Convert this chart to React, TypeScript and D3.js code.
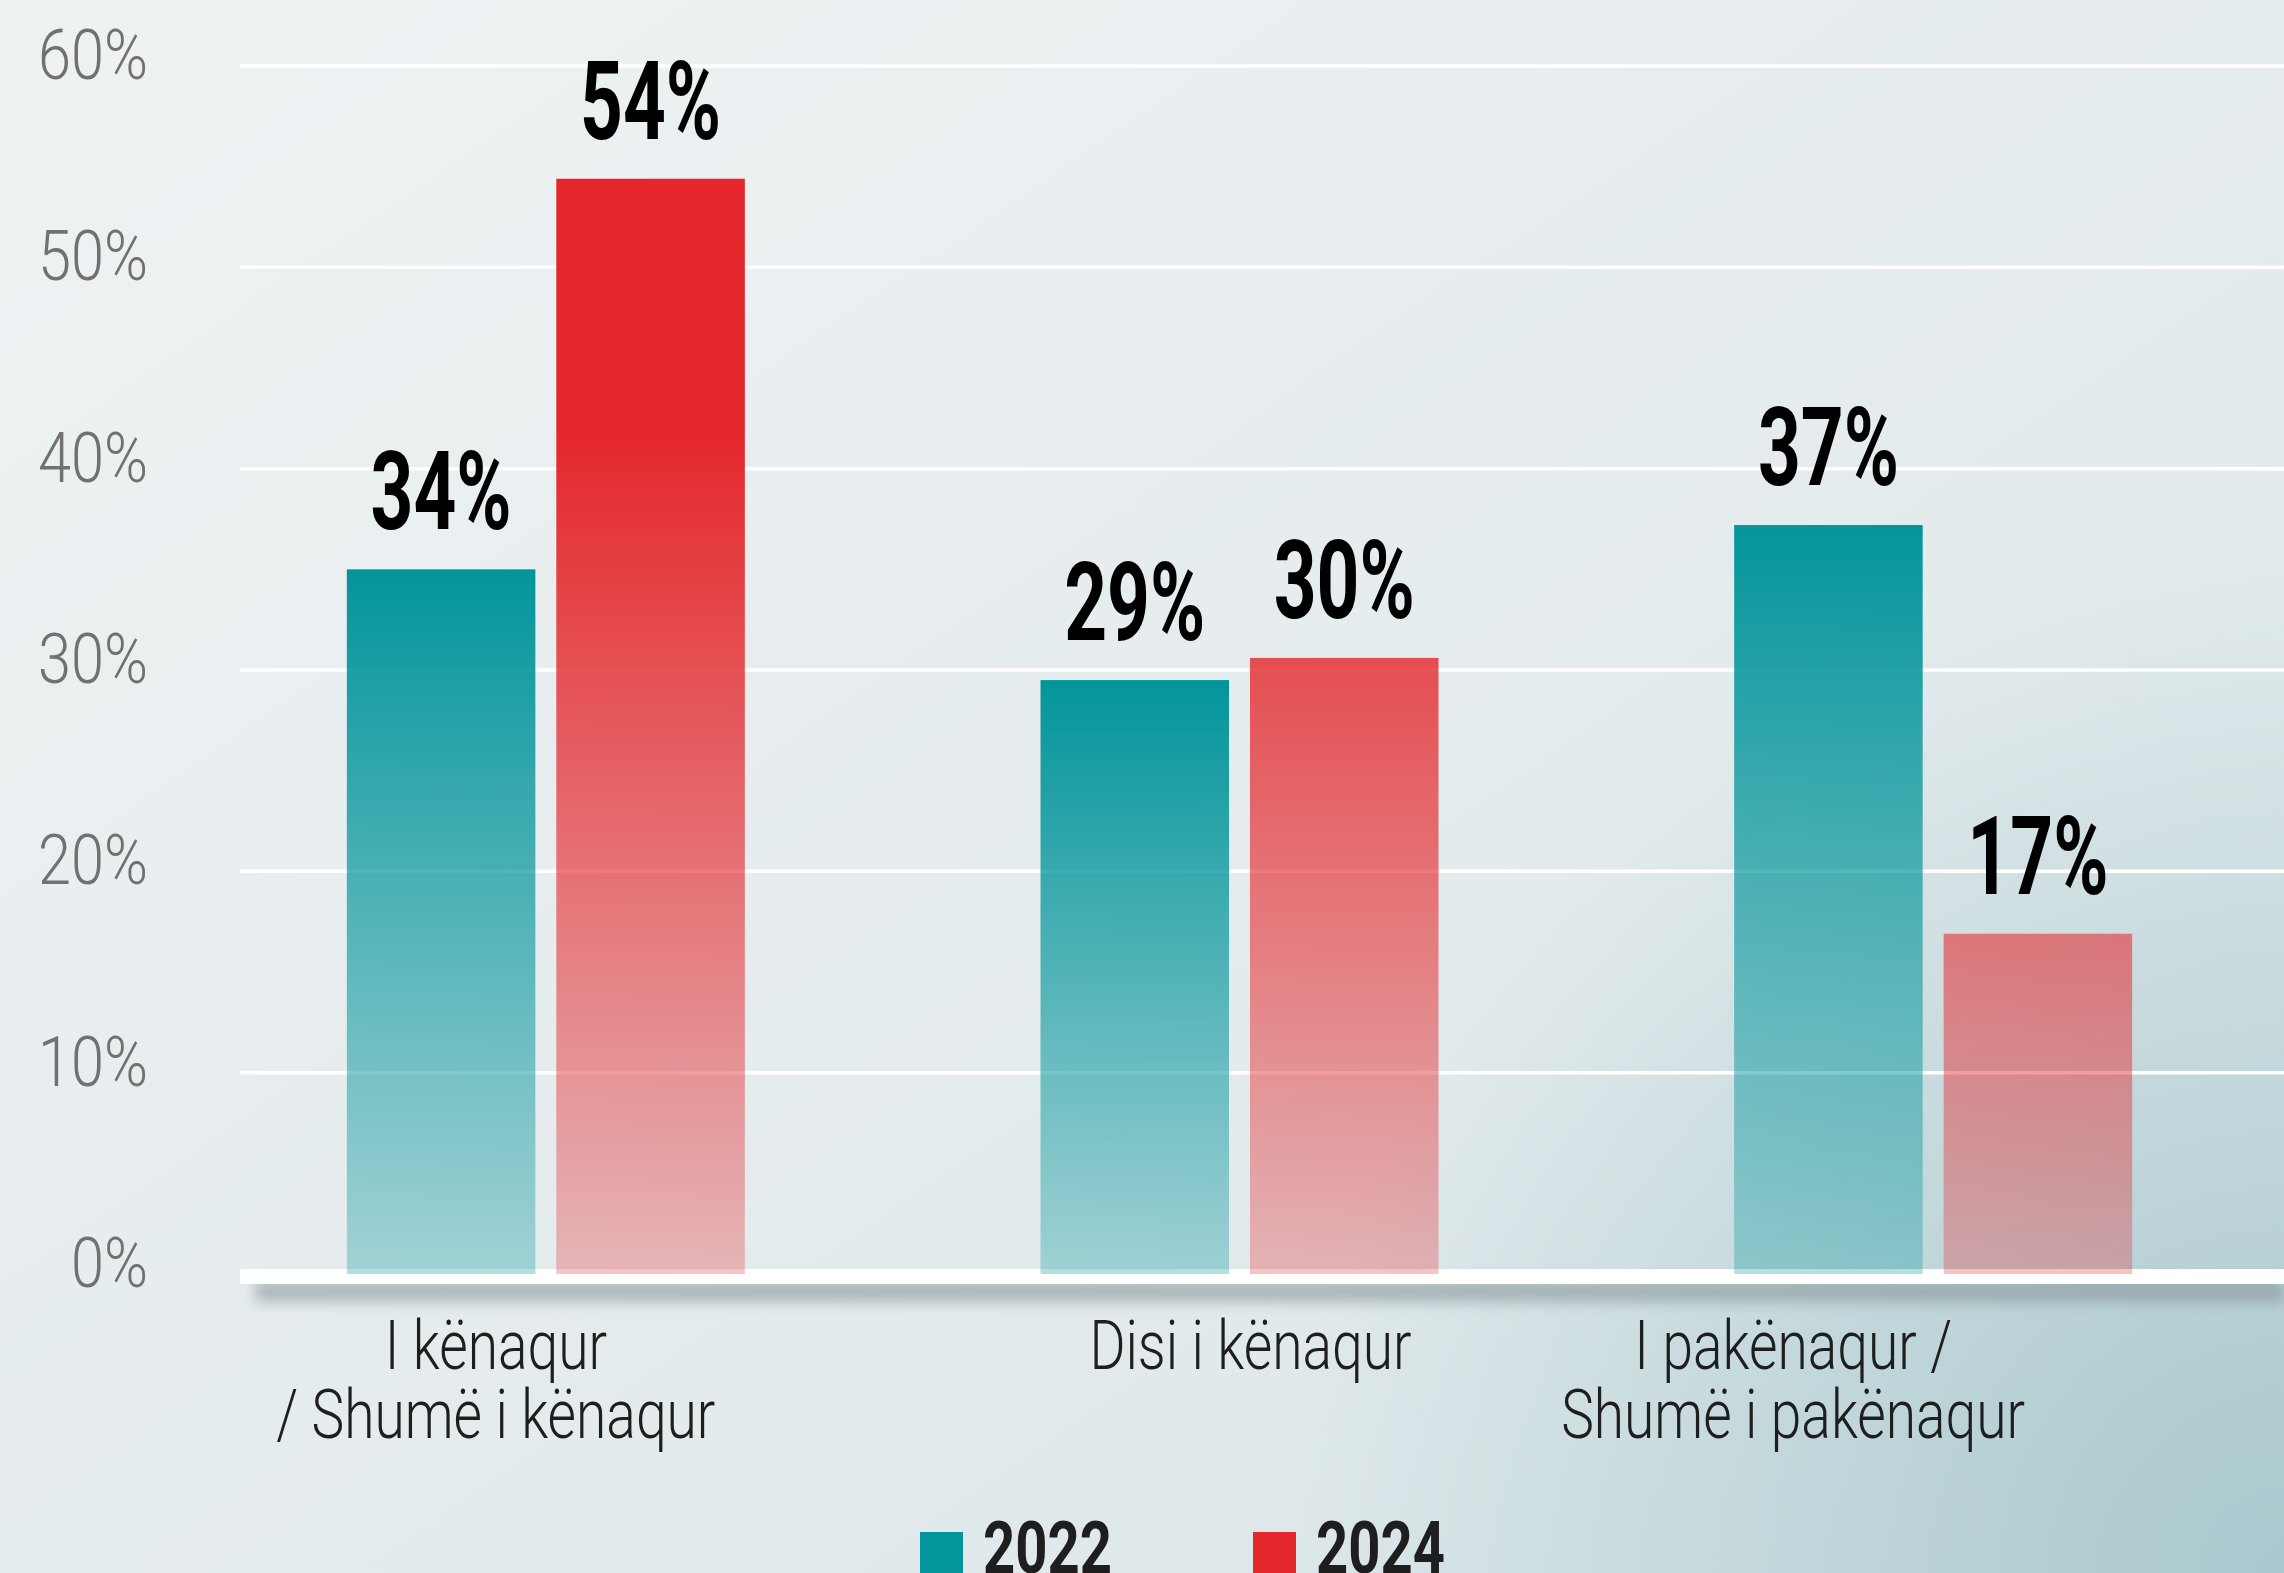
import React from "react";
import * as d3 from "d3";

const W = 2284;
const H = 1573;

// data
const categories = ["I kënaqur / Shumë i kënaqur", "Disi i kënaqur", "I pakënaqur / Shumë i pakënaqur"];
const categoryLines = [
  ["I kënaqur", "/ Shumë i kënaqur"],
  ["Disi i kënaqur"],
  ["I pakënaqur /", "Shumë i pakënaqur"],
];
const series = ["2022", "2024"];
const values2022 = [35, 29.5, 37.2];
const values2024 = [54.4, 30.6, 16.9];
const labels2022 = ["34%", "29%", "37%"];
const labels2024 = ["54%", "30%", "17%"];
const yTicks = [0, 10, 20, 30, 40, 50, 60];

const colors: Record<string, string> = { "2022": "#03959b", "2024": "#e4272b" };

// layout
const margin = { top: 66, bottom: 299, left: 240 };
const catShift = [-50, 11, -140]; // x labels are not centred under the groups in the original

const App = () => {
  const y = d3.scaleLinear().domain([0, 60]).range([H - margin.bottom, margin.top]);
  const x0 = d3.scaleBand().domain(categories).range([199, 2280]);
  const half = 199;

  const rows = categories.map((c, i) => ({
    cat: c,
    bars: [
      { s: "2022", v: values2022[i], label: labels2022[i] },
      { s: "2024", v: values2024[i], label: labels2024[i] },
    ],
  }));

  const center = (c: string) => (x0(c) || 0) + x0.bandwidth() / 2;
  const x1 = (c: string) =>
    d3.scaleBand().domain(series).range([center(c) - half, center(c) + half]).paddingInner(0.1);

  const font = "Roboto, 'Liberation Sans', sans-serif";

  return (
    <svg width={W} height={H} style={{ position: "absolute", left: 0, top: 0, display: "block" }}>
      <defs>
        <linearGradient id="bg" x1="0" y1="0" x2="1" y2="1">
          <stop offset="0" stopColor="#eef2f3" />
          <stop offset="0.6" stopColor="#e4ebed" />
          <stop offset="1" stopColor="#d6e3e6" />
        </linearGradient>
        <radialGradient id="corner" gradientUnits="userSpaceOnUse" cx={W} cy={H} r={1000}>
          <stop offset="0" stopColor="#a9c8cd" stopOpacity="1" />
          <stop offset="1" stopColor="#a9c8cd" stopOpacity="0" />
        </radialGradient>
        <linearGradient id="teal" x1="0" y1="0" x2="0" y2="1">
          <stop offset="0" stopColor={colors["2022"]} stopOpacity="1" />
          <stop offset="1" stopColor={colors["2022"]} stopOpacity="0.3" />
        </linearGradient>
        <linearGradient id="red" gradientUnits="userSpaceOnUse" x1="0" y1={y(42)} x2="0" y2={y(0)}>
          <stop offset="0" stopColor={colors["2024"]} stopOpacity="1" />
          <stop offset="1" stopColor={colors["2024"]} stopOpacity="0.28" />
        </linearGradient>
        <filter id="blur" x="-5%" y="-200%" width="110%" height="500%">
          <feGaussianBlur stdDeviation="7" />
        </filter>
      </defs>

      <rect width={W} height={H} fill="url(#bg)" />
      <rect width={W} height={H} fill="url(#corner)" />

      {/* grid */}
      {yTicks.filter((t) => t > 0).map((t) => (
        <line key={t} x1={margin.left} x2={W} y1={y(t)} y2={y(t)} stroke="#fff" strokeWidth={3.5} />
      ))}

      {/* y labels */}
      {yTicks.map((t) => (
        <text
          key={t}
          transform={`translate(148, ${y(t) + 13}) scale(0.85, 1)`}
          textAnchor="end"
          fontFamily={font}
          fontWeight={300}
          fontSize={70}
          fill="#717171"
        >
          {t}%
        </text>
      ))}

      {/* base line with shadow */}
      <rect x={255} y={y(0) + 6} width={W - 255} height={22} fill="#7f8c90" opacity={0.55} filter="url(#blur)" />
      <rect x={margin.left} y={y(0) - 5} width={W - margin.left} height={15} fill="#fff" />

      {/* bars */}
      {rows.map((r) => {
        const xs = x1(r.cat);
        return (
          <g key={r.cat}>
            {r.bars.map((b) => (
              <g key={b.s}>
                <rect
                  x={xs(b.s)}
                  y={y(b.v)}
                  width={xs.bandwidth()}
                  height={y(0) - y(b.v)}
                  fill={b.s === "2022" ? "url(#teal)" : "url(#red)"}
                />
                <text
                  transform={`translate(${(xs(b.s) || 0) + xs.bandwidth() / 2}, ${y(b.v) - 40}) scale(0.68, 1)`}
                  textAnchor="middle"
                  fontFamily={font}
                  fontWeight={700}
                  fontSize={110}
                  fill="#000"
                >
                  {b.label}
                </text>
              </g>
            ))}
          </g>
        );
      })}

      {/* category labels */}
      {categories.map((c, i) => (
        <g key={c}>
          {categoryLines[i].map((ln, j) => (
            <text
              key={ln}
              transform={`translate(${center(c) + catShift[i]}, ${1369 + j * 69}) scale(0.81, 1)`}
              textAnchor="middle"
              fontFamily={font}
              fontWeight={300}
              fontSize={68}
              fill="#1e1e1e"
            >
              {ln}
            </text>
          ))}
        </g>
      ))}

      {/* legend */}
      {series.map((s, i) => (
        <g key={s} transform={`translate(${920 + i * 333}, 1532)`}>
          <rect width={43} height={43} fill={colors[s]} />
          <text
            transform="translate(63, 41) scale(0.77, 1)"
            fontFamily={font}
            fontWeight={700}
            fontSize={73}
            fill="#1e1e1e"
          >
            {s}
          </text>
        </g>
      ))}
    </svg>
  );
};

export default App;
